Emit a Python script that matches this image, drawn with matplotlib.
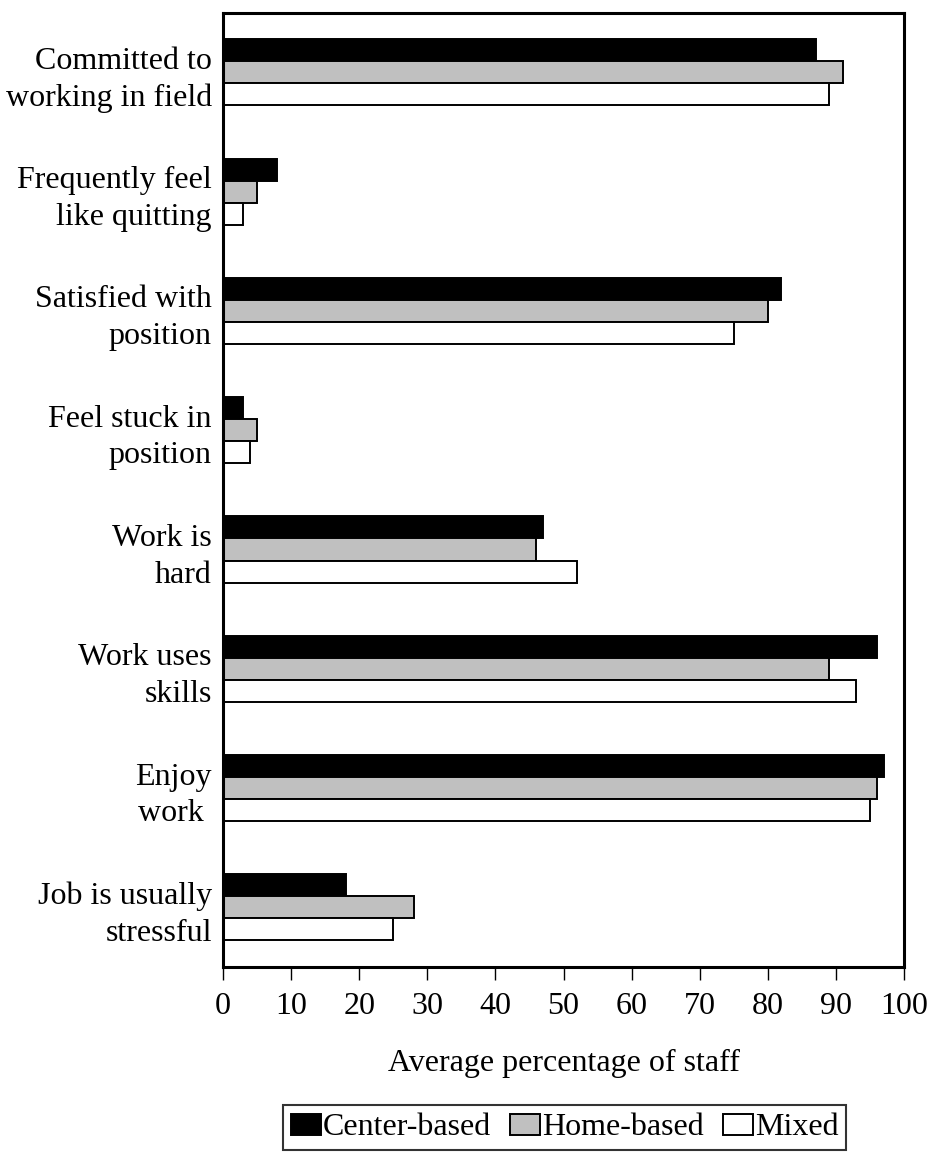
import matplotlib.pyplot as plt
from matplotlib.patches import Patch
import numpy as np

categories = ["Committed to\nworking in field", "Frequently feel\nlike quitting",
              "Satisfied with\nposition", "Feel stuck in\nposition",
              "Work is\nhard", "Work uses\nskills", "Enjoy\nwork ",
              "Job is usually\nstressful"]
center_based = [87, 8, 82, 3, 47, 96, 97, 18]
home_based = [91, 5, 80, 5, 46, 89, 96, 28]
mixed = [89, 3, 75, 4, 52, 93, 95, 25]
series_names = ["Center-based", "Home-based", "Mixed"]
colors = ["black", "#c0c0c0", "white"]

plt.rcParams['font.family'] = ['Liberation Serif', 'DejaVu Serif']
fs = 23

fig = plt.figure(figsize=(9.33, 11.52), dpi=100)
ax = fig.add_axes([0.239, 0.1606, 0.730, 0.8284])

y = np.arange(len(categories))
h = 0.185
for k, vals in enumerate([center_based, home_based, mixed]):
    ax.barh(y + (k - 1) * h, vals, height=h, color=colors[k],
            edgecolor="black", linewidth=1.4)

ax.set_xlim(0, 100)
ax.set_ylim(len(categories) - 0.5, -0.5)
ax.set_xticks(np.arange(0, 101, 10))
ax.set_yticks(y)
ax.set_yticklabels(categories, fontsize=fs, linespacing=1.35, ha="right")
ax.tick_params(axis="y", length=0, pad=8)
ax.tick_params(axis="x", labelsize=fs, length=9, width=1, direction="out", pad=9)
for s in ax.spines.values():
    s.set_linewidth(2.2)

ax.set_xlabel("Average percentage of staff", fontsize=fs, labelpad=20)

handles = [Patch(facecolor=c, edgecolor="black", linewidth=1.4) for c in colors]
leg = fig.legend(handles, series_names, loc="lower center", ncol=3,
                 bbox_to_anchor=(0.605, 0.0), fontsize=fs, frameon=True,
                 fancybox=False, edgecolor="black", handlelength=0.95,
                 handleheight=0.65, handletextpad=0.05, columnspacing=0.6,
                 borderpad=0.25, borderaxespad=0.05)
leg.get_frame().set_linewidth(1.5)

plt.savefig("out.png", dpi=100)
